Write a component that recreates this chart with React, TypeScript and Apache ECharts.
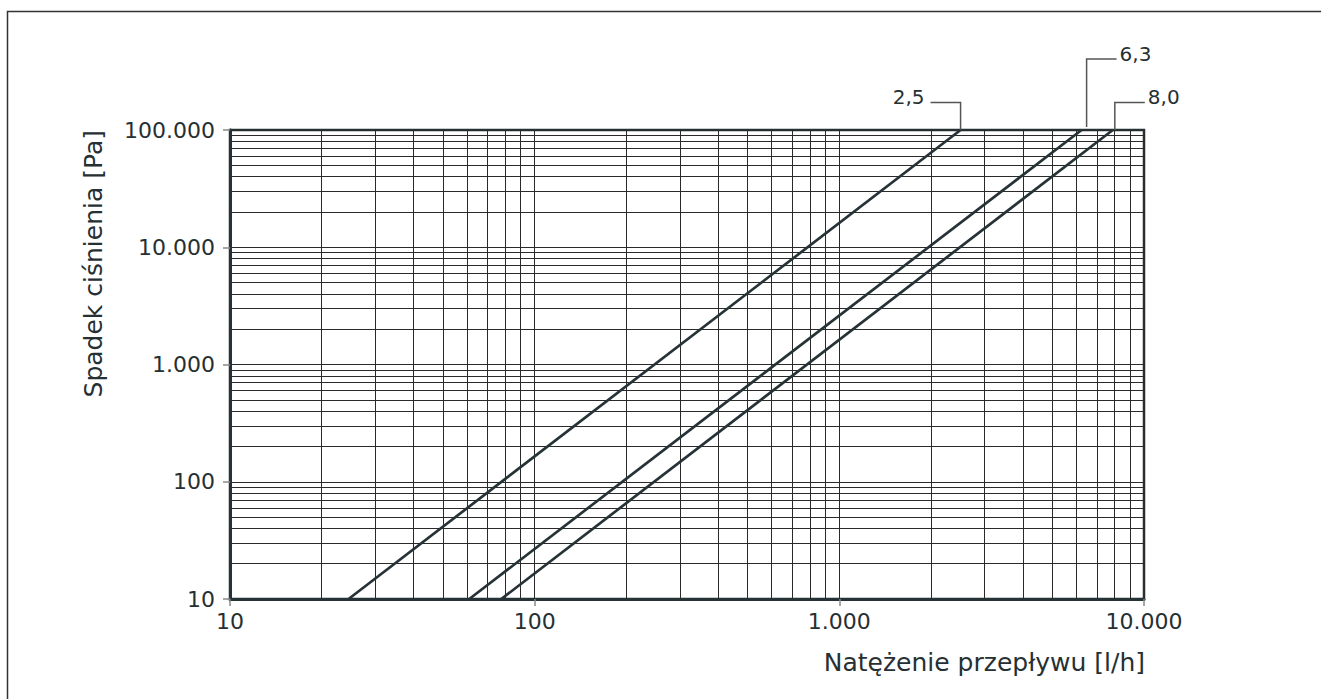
import React, { useEffect, useRef } from "react";
import * as echarts from "echarts";

// Flow [l/h] and pressure drop [Pa] read along each valve characteristic (Kv)
const kvLabels = ["2,5", "6,3", "8,0"];
const flowKv25 = [24.5, 2500];
const dpKv25 = [10, 100000];
const flowKv63 = [61, 6240];
const dpKv63 = [10, 100000];
const flowKv80 = [77.7, 7900];
const dpKv80 = [10, 100000];

const xMin = 10;
const xMax = 10000;
const yMin = 10;
const yMax = 100000;
const gridMultipliers = [2, 3, 4, 5, 6, 7, 8, 9];
const xDecades = [10, 100, 1000];
const yDecades = [10, 100, 1000, 10000];

const xName = "Natężenie przepływu [l/h]";
const yName = "Spadek ciśnienia [Pa]";

const FONT = "DejaVu Sans";
const TEXT = "#263033";
const DARK = "#263336";
const GRID = "#2a2a2a";

function fmt(v: number) {
  return String(Math.round(v)).replace(/\B(?=(\d{3})+(?!\d))/g, ".");
}

function pairs(xs: number[], ys: number[]) {
  return xs.map((x, i) => [x, ys[i]]);
}

export default function App() {
  const ref = useRef<HTMLDivElement>(null);
  useEffect(() => {
    if (!ref.current) return;
    const chart = echarts.init(ref.current, null, { renderer: "svg" });
    const minorX: number[] = [];
    xDecades.forEach((d) => gridMultipliers.forEach((m) => minorX.push(d * m)));
    const minorY: number[] = [];
    yDecades.forEach((d) => gridMultipliers.forEach((m) => minorY.push(d * m)));

    const curveStyle = { color: DARK, width: 2.7 };
    const curveSeries = (name: string, xs: number[], ys: number[]) => ({
      name,
      type: "line",
      data: pairs(xs, ys),
      showSymbol: false,
      symbol: "none",
      lineStyle: curveStyle,
      itemStyle: { color: DARK },
      silent: true,
      z: 5,
      emphasis: { disabled: true },
    });

    chart.setOption({
      animation: false,
      textStyle: { fontFamily: FONT },
      grid: {
        left: 230,
        top: 130,
        right: 177,
        bottom: 100,
        show: true,
        borderColor: DARK,
        borderWidth: 2.5,
        backgroundColor: "transparent",
      },
      xAxis: {
        type: "log",
        logBase: 10,
        min: xMin,
        max: xMax,
        axisLine: { show: true, onZero: false, lineStyle: { color: DARK, width: 3 } },
        axisTick: { show: true, length: 7, lineStyle: { color: "#888", width: 1.5 } },
        axisLabel: { margin: 11, fontSize: 22, color: TEXT, fontFamily: FONT, formatter: fmt },
        splitLine: { show: true, lineStyle: { color: GRID, width: 1 } },
      },
      yAxis: {
        type: "log",
        logBase: 10,
        min: yMin,
        max: yMax,
        axisLine: { show: true, onZero: false, lineStyle: { color: DARK, width: 3 } },
        axisTick: { show: true, length: 7, lineStyle: { color: "#888", width: 1.5 } },
        axisLabel: { margin: 15, fontSize: 22, color: TEXT, fontFamily: FONT, formatter: fmt },
        splitLine: { show: true, lineStyle: { color: GRID, width: 1 } },
      },
      series: [
        {
          type: "line",
          data: [],
          silent: true,
          z: 1,
          markLine: {
            silent: true,
            animation: false,
            symbol: ["none", "none"],
            label: { show: false },
            emphasis: { disabled: true },
            lineStyle: { color: GRID, width: 1, type: "solid" },
            data: [
              ...minorX.map((v) => ({ xAxis: v })),
              ...minorY.map((v) => ({ yAxis: v })),
            ],
          },
        },
        curveSeries(kvLabels[0], flowKv25, dpKv25),
        curveSeries(kvLabels[1], flowKv63, dpKv63),
        curveSeries(kvLabels[2], flowKv80, dpKv80),
      ],
    });

    const end25 = chart.convertToPixel({ gridIndex: 0 }, [flowKv25[flowKv25.length - 1], dpKv25[dpKv25.length - 1]]) as number[];
    const end63 = chart.convertToPixel({ gridIndex: 0 }, [flowKv63[flowKv63.length - 1], dpKv63[dpKv63.length - 1]]) as number[];
    const end80 = chart.convertToPixel({ gridIndex: 0 }, [flowKv80[flowKv80.length - 1], dpKv80[dpKv80.length - 1]]) as number[];
    const topLeft = chart.convertToPixel({ gridIndex: 0 }, [xMin, yMax]) as number[];
    const bottomRight = chart.convertToPixel({ gridIndex: 0 }, [xMax, yMin]) as number[];

    const leaderStyle = { stroke: "#555", lineWidth: 1.5, fill: null };
    const labelStyle = (text: string, x: number, y: number, align: string) => ({
      type: "text",
      silent: true,
      style: {
        text,
        x,
        y,
        fill: TEXT,
        fontSize: 20,
        fontFamily: FONT,
        textAlign: align,
        textVerticalAlign: "bottom",
        align,
        verticalAlign: "bottom",
      },
    });

    chart.setOption({
      graphic: [
        {
          type: "rect",
          silent: true,
          shape: { x: 7.5, y: 11.5, width: 1400, height: 800 },
          style: { stroke: "#333", lineWidth: 1.5, fill: null },
        },
        // Kv 2,5
        {
          type: "polyline",
          silent: true,
          shape: { points: [[end25[0], end25[1]], [end25[0], end25[1] - 27.5], [end25[0] - 30, end25[1] - 27.5]] },
          style: leaderStyle,
        },
        labelStyle(kvLabels[0], end25[0] - 36, end25[1] - 23, "right"),
        // Kv 6,3
        {
          type: "polyline",
          silent: true,
          shape: { points: [[end63[0] + 5, end63[1] - 3], [end63[0] + 5, end63[1] - 71], [end63[0] + 35, end63[1] - 71]] },
          style: leaderStyle,
        },
        labelStyle(kvLabels[1], end63[0] + 38, end63[1] - 66, "left"),
        // Kv 8,0
        {
          type: "polyline",
          silent: true,
          shape: { points: [[end80[0] + 2, end80[1]], [end80[0] + 2, end80[1] - 27.5], [end80[0] + 32, end80[1] - 27.5]] },
          style: leaderStyle,
        },
        labelStyle(kvLabels[2], end80[0] + 35, end80[1] - 23, "left"),
        // axis names
        {
          type: "text",
          silent: true,
          style: {
            text: xName,
            x: bottomRight[0] + 1,
            y: bottomRight[1] + 63,
            fill: TEXT,
            fontSize: 25,
            fontFamily: FONT,
            textAlign: "right",
            textVerticalAlign: "middle",
            align: "right",
            verticalAlign: "middle",
          },
        },
        {
          type: "text",
          silent: true,
          x: 93,
          y: topLeft[1],
          rotation: Math.PI / 2,
          style: {
            text: yName,
            x: 0,
            y: 0,
            fill: TEXT,
            fontSize: 25,
            fontFamily: FONT,
            textAlign: "right",
            textVerticalAlign: "middle",
            align: "right",
            verticalAlign: "middle",
          },
        },
      ],
    });

    return () => chart.dispose();
  }, []);
  return (
    <div
      ref={ref}
      style={{ position: "absolute", left: 0, top: 0, width: 1321, height: 699, background: "#fff" }}
    />
  );
}
